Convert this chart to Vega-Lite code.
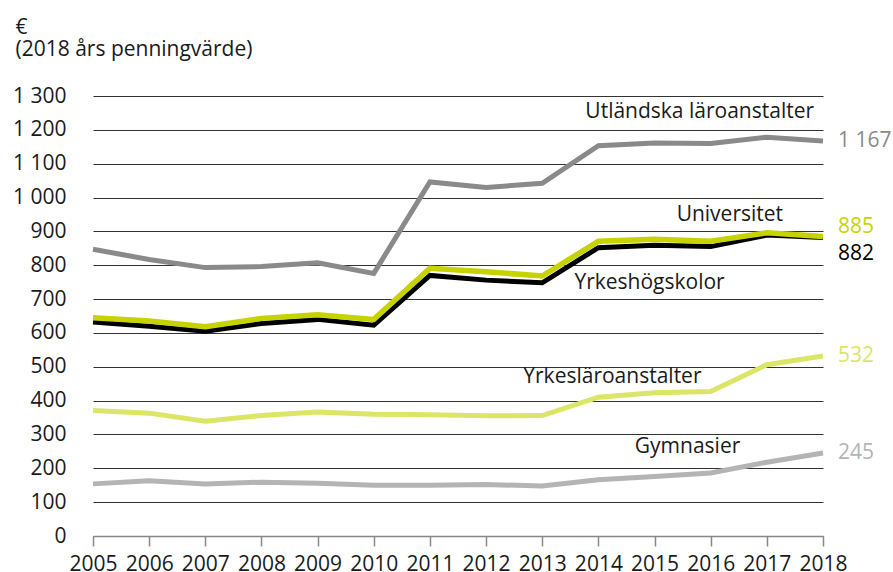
{
  "$schema": "https://vega.github.io/schema/vega-lite/v6.json",
  "width": 730,
  "height": 440,
  "autosize": "none",
  "padding": {"left": 93, "top": 96, "right": 70, "bottom": 36},
  "config": {
    "view": {"stroke": null},
    "font": "Open Sans",
    "locale": {"number": {"decimal": ",", "thousands": " ", "grouping": [3], "currency": ["", " €"]}}
  },
  "data": {"values": [
    {"series": "Utländska läroanstalter", "year": 2005, "value": 847},
    {"series": "Utländska läroanstalter", "year": 2006, "value": 817},
    {"series": "Utländska läroanstalter", "year": 2007, "value": 793},
    {"series": "Utländska läroanstalter", "year": 2008, "value": 796},
    {"series": "Utländska läroanstalter", "year": 2009, "value": 807},
    {"series": "Utländska läroanstalter", "year": 2010, "value": 776},
    {"series": "Utländska läroanstalter", "year": 2011, "value": 1046},
    {"series": "Utländska läroanstalter", "year": 2012, "value": 1030},
    {"series": "Utländska läroanstalter", "year": 2013, "value": 1042},
    {"series": "Utländska läroanstalter", "year": 2014, "value": 1153},
    {"series": "Utländska läroanstalter", "year": 2015, "value": 1161},
    {"series": "Utländska läroanstalter", "year": 2016, "value": 1160},
    {"series": "Utländska läroanstalter", "year": 2017, "value": 1178},
    {"series": "Utländska läroanstalter", "year": 2018, "value": 1167},
    {"series": "Yrkeshögskolor", "year": 2005, "value": 632},
    {"series": "Yrkeshögskolor", "year": 2006, "value": 620},
    {"series": "Yrkeshögskolor", "year": 2007, "value": 605},
    {"series": "Yrkeshögskolor", "year": 2008, "value": 628},
    {"series": "Yrkeshögskolor", "year": 2009, "value": 640},
    {"series": "Yrkeshögskolor", "year": 2010, "value": 623},
    {"series": "Yrkeshögskolor", "year": 2011, "value": 770},
    {"series": "Yrkeshögskolor", "year": 2012, "value": 756},
    {"series": "Yrkeshögskolor", "year": 2013, "value": 748},
    {"series": "Yrkeshögskolor", "year": 2014, "value": 852},
    {"series": "Yrkeshögskolor", "year": 2015, "value": 859},
    {"series": "Yrkeshögskolor", "year": 2016, "value": 855},
    {"series": "Yrkeshögskolor", "year": 2017, "value": 889},
    {"series": "Yrkeshögskolor", "year": 2018, "value": 882},
    {"series": "Universitet", "year": 2005, "value": 645},
    {"series": "Universitet", "year": 2006, "value": 635},
    {"series": "Universitet", "year": 2007, "value": 618},
    {"series": "Universitet", "year": 2008, "value": 643},
    {"series": "Universitet", "year": 2009, "value": 654},
    {"series": "Universitet", "year": 2010, "value": 640},
    {"series": "Universitet", "year": 2011, "value": 791},
    {"series": "Universitet", "year": 2012, "value": 781},
    {"series": "Universitet", "year": 2013, "value": 768},
    {"series": "Universitet", "year": 2014, "value": 871},
    {"series": "Universitet", "year": 2015, "value": 877},
    {"series": "Universitet", "year": 2016, "value": 871},
    {"series": "Universitet", "year": 2017, "value": 896},
    {"series": "Universitet", "year": 2018, "value": 885},
    {"series": "Yrkesläroanstalter", "year": 2005, "value": 371},
    {"series": "Yrkesläroanstalter", "year": 2006, "value": 363},
    {"series": "Yrkesläroanstalter", "year": 2007, "value": 339},
    {"series": "Yrkesläroanstalter", "year": 2008, "value": 356},
    {"series": "Yrkesläroanstalter", "year": 2009, "value": 366},
    {"series": "Yrkesläroanstalter", "year": 2010, "value": 360},
    {"series": "Yrkesläroanstalter", "year": 2011, "value": 358},
    {"series": "Yrkesläroanstalter", "year": 2012, "value": 355},
    {"series": "Yrkesläroanstalter", "year": 2013, "value": 356},
    {"series": "Yrkesläroanstalter", "year": 2014, "value": 410},
    {"series": "Yrkesläroanstalter", "year": 2015, "value": 423},
    {"series": "Yrkesläroanstalter", "year": 2016, "value": 427},
    {"series": "Yrkesläroanstalter", "year": 2017, "value": 506},
    {"series": "Yrkesläroanstalter", "year": 2018, "value": 532},
    {"series": "Gymnasier", "year": 2005, "value": 154},
    {"series": "Gymnasier", "year": 2006, "value": 163},
    {"series": "Gymnasier", "year": 2007, "value": 154},
    {"series": "Gymnasier", "year": 2008, "value": 159},
    {"series": "Gymnasier", "year": 2009, "value": 156},
    {"series": "Gymnasier", "year": 2010, "value": 150},
    {"series": "Gymnasier", "year": 2011, "value": 150},
    {"series": "Gymnasier", "year": 2012, "value": 152},
    {"series": "Gymnasier", "year": 2013, "value": 148},
    {"series": "Gymnasier", "year": 2014, "value": 166},
    {"series": "Gymnasier", "year": 2015, "value": 176},
    {"series": "Gymnasier", "year": 2016, "value": 186},
    {"series": "Gymnasier", "year": 2017, "value": 218},
    {"series": "Gymnasier", "year": 2018, "value": 245}
  ]},
  "encoding": {
    "x": {
      "field": "year", "type": "quantitative",
      "scale": {"domain": [2005, 2018], "nice": false, "zero": false},
      "axis": {
        "values": [2005, 2006, 2007, 2008, 2009, 2010, 2011, 2012, 2013, 2014, 2015, 2016, 2017, 2018],
        "format": "d", "title": null, "grid": false,
        "domainColor": "#888888", "domainWidth": 1.5,
        "tickColor": "#888888", "tickWidth": 1.5, "tickSize": 10,
        "labelFontSize": 21, "labelColor": "#1a1a1a", "labelPadding": 7,
        "labelFlush": false, "labelOverlap": false
      }
    },
    "y": {
      "field": "value", "type": "quantitative",
      "scale": {"domain": [0, 1300], "nice": false},
      "axis": {
        "values": [0, 100, 200, 300, 400, 500, 600, 700, 800, 900, 1000, 1100, 1200, 1300],
        "title": ["€", "(2018 års penningvärde)"],
        "titleAngle": 0, "titleAlign": "left", "titleBaseline": "alphabetic",
        "titleX": -78, "titleY": -63, "titleFontSize": 21, "titleFontWeight": "normal",
        "titleLineHeight": 22, "titleColor": "#1a1a1a",
        "grid": true, "gridColor": "#333333", "gridWidth": 1,
        "domain": false, "ticks": false,
        "labelPadding": 27, "labelFontSize": 21, "labelColor": "#1a1a1a",
        "labelExpr": "replace(format(datum.value, ','), ',', ' ')"
      }
    },
    "color": {
      "field": "series", "type": "nominal", "legend": null,
      "scale": {
        "domain": ["Utländska läroanstalter", "Yrkeshögskolor", "Universitet", "Yrkesläroanstalter", "Gymnasier"],
        "range": ["#8a8a8a", "#000000", "#c6d300", "#dbe566", "#b4b4b4"]
      }
    }
  },
  "layer": [
    {
      "transform": [{"filter": "datum.series != 'Universitet'"}],
      "mark": {"type": "line", "strokeWidth": 5, "strokeJoin": "miter"}
    },
    {
      "transform": [{"filter": "datum.series == 'Universitet'"}],
      "mark": {"type": "line", "strokeWidth": 5.5, "strokeJoin": "miter"}
    },
    {
      "transform": [{"filter": "datum.year == 2018 && datum.series != 'Universitet' && datum.series != 'Yrkeshögskolor'"}],
      "mark": {"type": "text", "align": "left", "baseline": "middle", "dx": 15, "fontSize": 21},
      "encoding": {"text": {"field": "value", "type": "quantitative", "format": ",d"}}
    },
    {
      "transform": [{"filter": "datum.year == 2018 && datum.series == 'Universitet'"}],
      "mark": {"type": "text", "align": "left", "baseline": "middle", "dx": 15, "dy": -9, "fontSize": 21},
      "encoding": {"text": {"field": "value", "type": "quantitative", "format": ",d"}}
    },
    {
      "transform": [{"filter": "datum.year == 2018 && datum.series == 'Yrkeshögskolor'"}],
      "mark": {"type": "text", "align": "left", "baseline": "middle", "dx": 15, "dy": 17, "fontSize": 21},
      "encoding": {"text": {"field": "value", "type": "quantitative", "format": ",d"}}
    },
    {
      "transform": [{"filter": "datum.year == 2016 && datum.series == 'Utländska läroanstalter'"}],
      "mark": {"type": "text", "align": "center", "baseline": "middle", "dx": -11, "dy": -31, "fontSize": 21},
      "encoding": {"text": {"field": "series"}, "color": {"value": "#1a1a1a"}}
    },
    {
      "transform": [{"filter": "datum.year == 2017 && datum.series == 'Universitet'"}],
      "mark": {"type": "text", "align": "center", "baseline": "middle", "dx": -37, "dy": -18, "fontSize": 21},
      "encoding": {"text": {"field": "series"}, "color": {"value": "#1a1a1a"}}
    },
    {
      "transform": [{"filter": "datum.year == 2015 && datum.series == 'Yrkeshögskolor'"}],
      "mark": {"type": "text", "align": "center", "baseline": "middle", "dx": -5, "dy": 38, "fontSize": 21},
      "encoding": {"text": {"field": "series"}, "color": {"value": "#1a1a1a"}}
    },
    {
      "transform": [{"filter": "datum.year == 2014 && datum.series == 'Yrkesläroanstalter'"}],
      "mark": {"type": "text", "align": "center", "baseline": "middle", "dx": 14, "dy": -20, "fontSize": 21},
      "encoding": {"text": {"field": "series"}, "color": {"value": "#1a1a1a"}}
    },
    {
      "transform": [{"filter": "datum.year == 2015 && datum.series == 'Gymnasier'"}],
      "mark": {"type": "text", "align": "center", "baseline": "middle", "dx": 33, "dy": -29, "fontSize": 21},
      "encoding": {"text": {"field": "series"}, "color": {"value": "#1a1a1a"}}
    }
  ]
}
